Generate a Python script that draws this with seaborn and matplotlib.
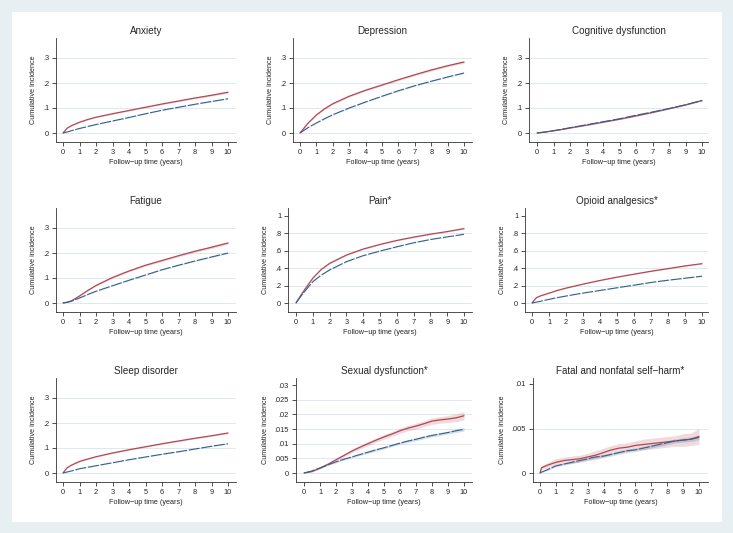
import matplotlib
matplotlib.use("Agg")
import matplotlib.pyplot as plt
from matplotlib.patches import Rectangle
import seaborn as sns

sns.set_style("ticks")
plt.rcParams['font.family'] = ['Liberation Sans', 'DejaVu Sans']

# ---- data ----
years = [0, 0.25, 0.5, 1, 1.5, 2, 3, 4, 5, 6, 7, 8, 9, 10]
years_half = [0, 0.5, 1, 1.5, 2, 2.5, 3, 3.5, 4, 4.5, 5, 5.5, 6, 6.5, 7, 7.5, 8, 8.5, 9, 9.5, 10]
years_harm = [0, 0.1, 0.5, 1, 1.5, 2, 2.5, 3, 3.5, 4, 4.5, 5, 5.5, 6, 6.5, 7, 7.5, 8, 8.5, 9, 9.5, 10]

titles = ['Anxiety', 'Depression', 'Cognitive dysfunction',
          'Fatigue', 'Pain*', 'Opioid analgesics*',
          'Sleep disorder', 'Sexual dysfunction*', 'Fatal and nonfatal self\u2212harm*']

anxiety_red = [0, 0.019, 0.029, 0.043, 0.054, 0.063, 0.077, 0.09, 0.103, 0.116, 0.128, 0.14, 0.151, 0.163]
anxiety_blue = [0, 0.004, 0.009, 0.018, 0.026, 0.034, 0.048, 0.062, 0.077, 0.091, 0.103, 0.115, 0.126, 0.137]
anxiety_red_ci = [0, .001, .001, .0015, .0015, .002, .002, .0022, .0025, .0027, .003, .0032, .0035, .004]
anxiety_blue_ci = [0, .0003, .0005, .0006, .0007, .0008, .0009, .001, .001, .0011, .0012, .0012, .0013, .0013]

depression_red = [0, 0.02, 0.04, 0.072, 0.097, 0.117, 0.147, 0.171, 0.192, 0.213, 0.233, 0.252, 0.269, 0.284]
depression_blue = [0, 0.011, 0.022, 0.04, 0.057, 0.073, 0.1, 0.124, 0.147, 0.169, 0.189, 0.207, 0.224, 0.24]
depression_red_ci = [0, .001, .0015, .002, .0025, .003, .003, .0035, .0035, .004, .004, .0045, .0045, .005]
depression_blue_ci = [0, .0005, .0007, .001, .001, .0012, .0013, .0014, .0015, .0016, .0017, .0018, .0019, .002]

cognitive_red = [0, 0.002, 0.004, 0.009, 0.014, 0.02, 0.031, 0.043, 0.055, 0.068, 0.082, 0.097, 0.112, 0.13]
cognitive_blue = [0, 0.002, 0.004, 0.009, 0.015, 0.021, 0.033, 0.045, 0.057, 0.071, 0.084, 0.098, 0.113, 0.13]
cognitive_red_ci = [0, .0003, .0005, .0007, .0008, .001, .0012, .0013, .0014, .0015, .0016, .0017, .0019, .002]
cognitive_blue_ci = [0, .0002, .0003, .0004, .0005, .0006, .0007, .0008, .0009, .001, .001, .0011, .0012, .0013]

fatigue_red = [0, 0.003, 0.008, 0.028, 0.05, 0.07, 0.102, 0.128, 0.151, 0.17, 0.189, 0.207, 0.223, 0.24]
fatigue_blue = [0, 0.003, 0.007, 0.02, 0.034, 0.047, 0.069, 0.091, 0.112, 0.133, 0.151, 0.168, 0.184, 0.2]
fatigue_red_ci = [0, .0005, .001, .0015, .002, .0025, .003, .003, .0035, .004, .004, .0045, .005, .005]
fatigue_blue_ci = [0, .0003, .0005, .0008, .001, .0011, .0012, .0013, .0014, .0015, .0016, .0017, .0018, .0019]

pain_red = [0, 0.075, 0.15, 0.285, 0.385, 0.455, 0.551, 0.62, 0.673, 0.719, 0.757, 0.791, 0.821, 0.855]
pain_blue = [0, 0.068, 0.13, 0.245, 0.32, 0.38, 0.475, 0.544, 0.597, 0.646, 0.692, 0.73, 0.76, 0.79]
pain_red_ci = [0, .002, .003, .004, .004, .005, .005, .005, .005, .005, .005, .005, .005, .005]
pain_blue_ci = [0, .001, .0015, .002, .002, .002, .002, .002, .002, .002, .002, .002, .002, .002]

opioid_red = [0, 0.06, 0.082, 0.113, 0.145, 0.171, 0.217, 0.259, 0.297, 0.331, 0.365, 0.395, 0.426, 0.452]
opioid_blue = [0, 0.01, 0.02, 0.042, 0.062, 0.08, 0.114, 0.144, 0.175, 0.205, 0.236, 0.262, 0.285, 0.308]
opioid_red_ci = [0, .002, .002, .003, .003, .003, .003, .0035, .0035, .0035, .004, .004, .004, .004]
opioid_blue_ci = [0, .0005, .001, .001, .0012, .0013, .0014, .0015, .0016, .0017, .0018, .0019, .002, .002]

sleep_red = [0, 0.021, 0.031, 0.046, 0.056, 0.065, 0.08, 0.093, 0.105, 0.117, 0.128, 0.139, 0.149, 0.16]
sleep_blue = [0, 0.004, 0.008, 0.017, 0.023, 0.029, 0.041, 0.053, 0.064, 0.075, 0.085, 0.096, 0.107, 0.117]
sleep_red_ci = [0, .001, .0012, .0015, .0017, .0018, .002, .0022, .0024, .0025, .0026, .0027, .0028, .003]
sleep_blue_ci = [0, .0003, .0004, .0005, .0006, .0007, .0008, .0008, .0009, .001, .001, .0011, .0011, .0012]

sexual_red = [0, 0.0005, 0.0017, 0.003, 0.0045, 0.006, 0.0075, 0.0088, 0.01, 0.0112, 0.0123,
              0.0133, 0.0144, 0.0153, 0.016, 0.0168, 0.0177, 0.0181, 0.0184, 0.0188, 0.0195]
sexual_blue = [0, 0.0007, 0.0017, 0.0028, 0.0038, 0.0047, 0.0055, 0.0063, 0.0071, 0.0079, 0.0086,
               0.0094, 0.0102, 0.0109, 0.0115, 0.0122, 0.0128, 0.0133, 0.0138, 0.0144, 0.0149]
sexual_red_ci = [0, .0002, .0003, .0004, .0005, .0005, .0006, .0006, .0007, .0007, .0008,
                 .0008, .0009, .0009, .001, .001, .0011, .0011, .0012, .0013, .0014]
sexual_blue_ci = [0, .0001, .0002, .0002, .0003, .0003, .0003, .0003, .0004, .0004, .0004,
                  .0004, .0004, .0005, .0005, .0005, .0005, .0005, .0005, .0006, .0006]

harm_red = [0, 0.0006, 0.0009, 0.0012, 0.0014, 0.0015, 0.0016, 0.0018, 0.002, 0.0023, 0.0026,
            0.0028, 0.0029, 0.0031, 0.0032, 0.0033, 0.0034, 0.0035, 0.0036, 0.0037, 0.0038, 0.0041]
harm_blue = [0, 0.0001, 0.0004, 0.0008, 0.001, 0.0012, 0.0014, 0.0016, 0.0018, 0.0019, 0.0021,
             0.0023, 0.0025, 0.0026, 0.0028, 0.003, 0.0032, 0.0034, 0.0036, 0.0037, 0.0038, 0.004]
harm_red_ci = [0, .0002, .0003, .0004, .0004, .0004, .0004, .0004, .0005, .0005, .0005,
               .0005, .0005, .0005, .0006, .0006, .0006, .0006, .0006, .0007, .0007, .0009]
harm_blue_ci = [0, .00005, .0001, .0001, .00012, .00013, .00014, .00015, .00016, .00017, .00018,
                .00019, .0002, .0002, .0002, .0002, .00021, .00022, .00023, .00024, .00025, .00025]

yticks_small = [0, 0.1, 0.2, 0.3]
ylabels_small = ['0', '.1', '.2', '.3']
yticks_big = [0, 0.2, 0.4, 0.6, 0.8, 1.0]
ylabels_big = ['0', '.2', '.4', '.6', '.8', '1']
yticks_sexual = [0, 0.005, 0.01, 0.015, 0.02, 0.025, 0.03]
ylabels_sexual = ['0', '.005', '.01', '.015', '.02', '.025', '.03']
yticks_harm = [0, 0.005, 0.01]
ylabels_harm = ['0', '.005', '.01']
xticks = list(range(11))

panels = [
    (years, anxiety_red, anxiety_red_ci, anxiety_blue, anxiety_blue_ci, yticks_small, ylabels_small),
    (years, depression_red, depression_red_ci, depression_blue, depression_blue_ci, yticks_small, ylabels_small),
    (years, cognitive_red, cognitive_red_ci, cognitive_blue, cognitive_blue_ci, yticks_small, ylabels_small),
    (years, fatigue_red, fatigue_red_ci, fatigue_blue, fatigue_blue_ci, yticks_small, ylabels_small),
    (years, pain_red, pain_red_ci, pain_blue, pain_blue_ci, yticks_big, ylabels_big),
    (years, opioid_red, opioid_red_ci, opioid_blue, opioid_blue_ci, yticks_big, ylabels_big),
    (years, sleep_red, sleep_red_ci, sleep_blue, sleep_blue_ci, yticks_small, ylabels_small),
    (years_half, sexual_red, sexual_red_ci, sexual_blue, sexual_blue_ci, yticks_sexual, ylabels_sexual),
    (years_harm, harm_red, harm_red_ci, harm_blue, harm_blue_ci, yticks_harm, ylabels_harm),
]

# ---- layout in pixels: (spine x, x of 0, x of 10, right edge) and row (top, bottom) ----
W, H = 733, 533
col_px = [(56, 63, 228, 236), (293, 300, 464, 472), (529, 537, 702, 708),
          (56, 63, 228, 236), (288, 296, 464, 472), (525, 532, 702, 708),
          (56, 63, 228, 236), (296, 304, 464, 472), (533, 540, 699, 708)]
row_px = [(38, 142), (208, 312), (378, 482)]
top_tick_gap = [20, 20, 20, 20, 8, 8, 20, 7, 6]

RED = '#b24753'
BLUE = '#2f5f8e'
BG = '#e8eff3'
GRID = '#dde9ee'

fig = plt.figure(figsize=(W / 100, H / 100), dpi=100)
fig.patch.set_facecolor(BG)
fig.add_artist(Rectangle((12 / W, 11 / H), 710 / W, 510 / H, transform=fig.transFigure,
                         facecolor='white', edgecolor='none', zorder=-1))

for i, (t, red, red_ci, blue, blue_ci, yt, yl) in enumerate(panels):
    L, x0, x10, R = col_px[i]
    T, B = row_px[i // 3]
    ax = fig.add_axes([L / W, (H - B) / H, (R - L) / W, (B - T) / H])

    ppx = (x10 - x0) / 10
    ax.set_xlim(-(x0 - L) / ppx, 10 + (R - x10) / ppx)
    y0 = B - 9
    ytop = T + top_tick_gap[i]
    ppy = (y0 - ytop) / yt[-1]
    ymin, ymax = -(B - y0) / ppy, yt[-1] + (ytop - T) / ppy
    ax.set_ylim(ymin, ymax)

    # Stata leaves out grid lines that sit right under the top of the plot region
    for v in yt:
        if (ymax - v) / (ymax - ymin) > 0.1:
            ax.axhline(v, color=GRID, lw=0.7, zorder=0)

    ax.fill_between(t, [a - b for a, b in zip(red, red_ci)], [a + b for a, b in zip(red, red_ci)],
                    color=RED, alpha=0.2, lw=0, zorder=1)
    ax.fill_between(t, [a - b for a, b in zip(blue, blue_ci)], [a + b for a, b in zip(blue, blue_ci)],
                    color=BLUE, alpha=0.2, lw=0, zorder=1)
    sns.lineplot(x=t, y=red, ax=ax, color=RED, linewidth=0.9, zorder=2)
    sns.lineplot(x=t, y=blue, ax=ax, color=BLUE, linewidth=0.8,
                 linestyle=(0, (10, 1.5)), zorder=3)

    ax.set_xticks(xticks)
    ax.set_xticklabels([str(x) for x in xticks])
    ax.set_yticks(yt)
    ax.set_yticklabels(yl)
    ax.tick_params(length=3, width=0.6, pad=2, labelsize=5.3, color='#333333')
    for s in ['left', 'bottom']:
        ax.spines[s].set_linewidth(0.6)
        ax.spines[s].set_color('#333333')
    sns.despine(ax=ax)

    ax.set_title(titles[i], fontsize=7.1, pad=3)
    ax.set_xlabel('Follow\u2212up time (years)', fontsize=5.2, labelpad=2)
    ax.set_ylabel('Cumulative incidence', fontsize=5.2, labelpad=4)

fig.savefig('out.png', dpi=100, facecolor=BG)
